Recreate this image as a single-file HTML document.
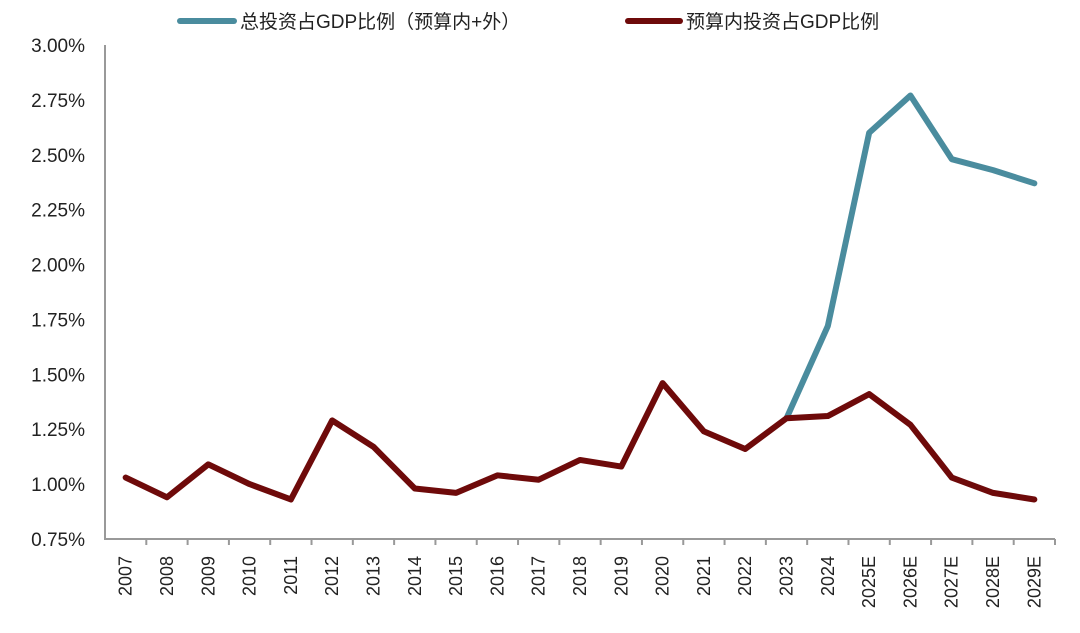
<!DOCTYPE html>
<html><head><meta charset="utf-8"><style>
body{margin:0;background:#fff;}
svg text{font-family:"Liberation Sans","Noto Sans CJK SC",sans-serif;fill:#222;}
</style></head><body>
<svg id="c" width="1080" height="628"></svg>
<script>
const categories=["2007","2008","2009","2010","2011","2012","2013","2014","2015","2016","2017","2018","2019","2020","2021","2022","2023","2024","2025E","2026E","2027E","2028E","2029E"];
const budgetValues=[1.03,0.94,1.09,1.00,0.93,1.29,1.17,0.98,0.96,1.04,1.02,1.11,1.08,1.46,1.24,1.16,1.30,1.31,1.41,1.27,1.03,0.96,0.93];
const totalValues=[null,null,null,null,null,null,null,null,null,null,null,null,null,null,null,null,1.30,1.72,2.60,2.77,2.48,2.43,2.37];
const yTicks=[0.75,1.00,1.25,1.50,1.75,2.00,2.25,2.50,2.75,3.00];
const ns="http://www.w3.org/2000/svg",svg=document.getElementById('c');
const L=105,R=1055,T=45,B=539,yMin=0.75,yMax=3.0;
const step=(R-L)/categories.length;
const x=i=>L+step*(i+0.5);
const y=v=>B-(v-yMin)/(yMax-yMin)*(B-T);
function mk(t,a,p){const e=document.createElementNS(ns,t);for(const k in a)e.setAttribute(k,a[k]);(p||svg).appendChild(e);return e;}
yTicks.forEach(v=>{const t=mk('text',{x:85,y:y(v)+7,'text-anchor':'end','font-size':19});t.textContent=v.toFixed(2)+'%';

});
const ax=mk('path',{d:`M${L},${T}V${B}H${R}`,stroke:'#999',fill:'none','stroke-width':2});


for(let i=1;i<=categories.length;i++){const tk=mk('line',{x1:L+step*i,x2:L+step*i,y1:B,y2:B+6,stroke:'#999','stroke-width':2});

}
categories.forEach((c,i)=>{const t=mk('text',{transform:`translate(${x(i)+6},556) rotate(-90)`,'text-anchor':'end','font-size':18});t.textContent=c;

});
function line(vals,color,name){let d='';vals.forEach((v,i)=>{if(v==null)return;d+=(d?'L':'M')+x(i)+','+y(v);});
const p=mk('path',{d,stroke:color,'stroke-width':6,fill:'none','stroke-linejoin':'round','stroke-linecap':'round'});

}
line(totalValues,'#4a8c9e','series-total');
line(budgetValues,'#6e0a0a','series-budget');
const g1=mk('g',{});


mk('line',{x1:180,x2:234,y1:21,y2:21,stroke:'#4a8c9e','stroke-width':6,'stroke-linecap':'round'},g1);
mk('text',{x:240,y:28,'font-size':19},g1).textContent='总投资占GDP比例（预算内+外）';
const g2=mk('g',{});


mk('line',{x1:628,x2:680,y1:21,y2:21,stroke:'#6e0a0a','stroke-width':6,'stroke-linecap':'round'},g2);
mk('text',{x:686,y:28,'font-size':19},g2).textContent='预算内投资占GDP比例';
</script>
</body></html>
